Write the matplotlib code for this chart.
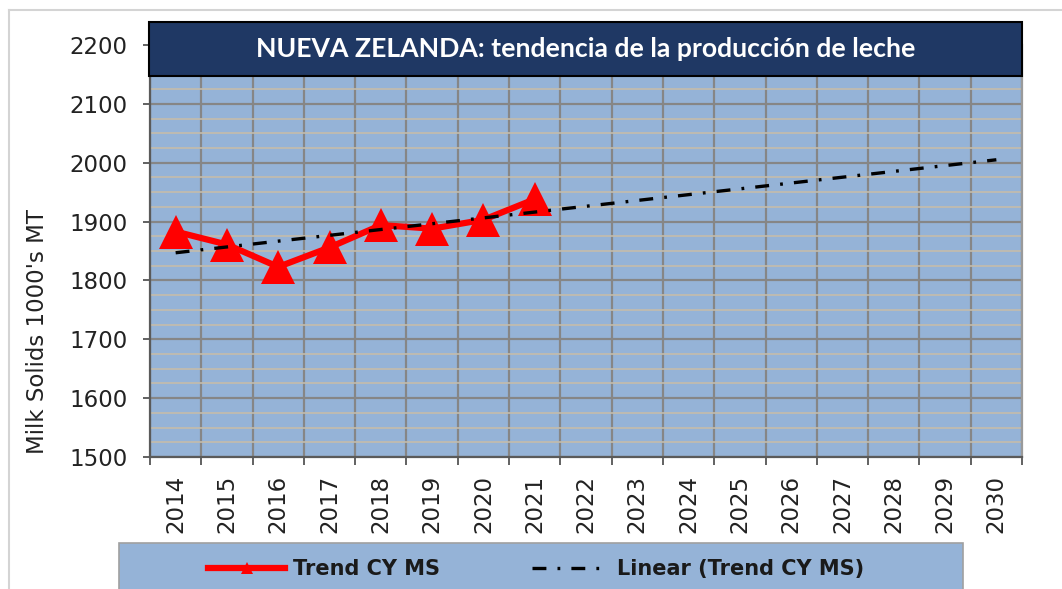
import matplotlib
matplotlib.use('Agg')
import matplotlib.pyplot as plt
from matplotlib.patches import Rectangle
from matplotlib.lines import Line2D
from matplotlib.ticker import MultipleLocator, FixedLocator

plt.rcParams['lines.scale_dashes'] = False

# ==============================
# DATA
# ==============================
years = ['2014', '2015', '2016', '2017', '2018', '2019', '2020', '2021', '2022',
         '2023', '2024', '2025', '2026', '2027', '2028', '2029', '2030']
trend_cy_ms = [1883, 1861, 1823, 1856, 1894, 1888, 1903, 1938]
# linear trendline as drawn (value at first and last category)
linear_years = ['2014', '2030']
linear_vals = [1847, 2005]

title = 'NUEVA ZELANDA: tendencia de la producción de leche'
ylabel = "Milk Solids 1000's MT"
series_label = 'Trend CY MS'
linear_label = 'Linear (Trend CY MS)'

# colours
bg_blue = '#95b3d7'
navy = '#1f3864'
grid_major = '#868686'
grid_minor = '#c4bcab'

# ==============================
# FIGURE
# ==============================
W, H = 1062, 589
fig = plt.figure(figsize=(W / 100, H / 100), dpi=100)
fig.patch.set_facecolor('white')

ax = fig.add_axes([150 / W, 1 - 457 / H, 872 / W, 412 / H])
ax.set_facecolor(bg_blue)

x_idx = list(range(len(years)))
pos = {y: i for i, y in enumerate(years)}

ax.plot([pos[y] for y in years[:len(trend_cy_ms)]], trend_cy_ms, color='#ff0000',
        linewidth=4.5, marker='^', markersize=24, markeredgewidth=0,
        label=series_label, zorder=3, solid_joinstyle='miter')
ax.plot([pos[y] for y in linear_years], linear_vals, color='black', linewidth=2.4,
        linestyle=(0, (10, 8, 2, 8)), label=linear_label, zorder=4)

ax.set_xlim(-0.5, len(years) - 0.5)
ax.set_ylim(1500, 2200)

# y axis
ax.yaxis.set_major_locator(MultipleLocator(100))
ax.yaxis.set_minor_locator(MultipleLocator(25))
ax.tick_params(axis='y', which='major', length=5, width=1.3, color='#555555',
               pad=11, labelsize=16.5, labelcolor='#222222')
ax.tick_params(axis='y', which='minor', length=0)

# x axis: labels at centres, ticks/grid at boundaries
ax.set_xticks(x_idx)
ax.set_xticklabels(years, rotation=90, fontsize=16.5, color='#222222')
ax.xaxis.set_minor_locator(FixedLocator([i + 0.5 for i in x_idx[:-1]] + [-0.5, len(years) - 0.5]))
ax.tick_params(axis='x', which='major', length=0, pad=13)
ax.tick_params(axis='x', which='minor', length=6, width=1.3, color='#555555', direction='out')

ax.grid(True, axis='y', which='major', color=grid_major, linewidth=1.6, zorder=1)
ax.grid(True, axis='y', which='minor', color=grid_minor, linewidth=1.2, zorder=1)
ax.grid(True, axis='x', which='minor', color=grid_major, linewidth=1.6, zorder=1)
ax.set_axisbelow(True)

for side in ['left', 'bottom']:
    ax.spines[side].set_color('#5a5a5a')
    ax.spines[side].set_linewidth(1.6)
ax.spines['right'].set_color('#9a9a9a')
ax.spines['right'].set_linewidth(1.6)
ax.spines['top'].set_visible(False)

fig.text(38 / W, 1 - 332 / H, ylabel, rotation=90, ha='center', va='center',
         fontsize=16.5, color='#222222')

# ==============================
# TITLE BOX
# ==============================
fig.patches.append(Rectangle((149 / W, 1 - 76 / H), 873 / W, 54 / H,
                             transform=fig.transFigure, facecolor=navy,
                             edgecolor='black', linewidth=1.5, zorder=5))
fig.text(586 / W, 1 - 49 / H, title, ha='center', va='center', color='white',
         fontsize=19.2, fontweight='bold', family='Lato', zorder=6)

# chart border lines
fig.lines.append(Line2D([9 / W, 9 / W], [0, 1 - 10 / H], transform=fig.transFigure,
                        color='#d4d4d4', linewidth=1.5))
fig.lines.append(Line2D([9 / W, 1], [1 - 10 / H, 1 - 10 / H], transform=fig.transFigure,
                        color='#d4d4d4', linewidth=1.5))

# ==============================
# LEGEND BOX
# ==============================
fig.patches.append(Rectangle((119 / W, -0.02), 844 / W, (589 - 543) / H + 0.02,
                             transform=fig.transFigure, facecolor=bg_blue,
                             edgecolor='#a0a0a0', linewidth=1.2, zorder=1))
handles, labels = ax.get_legend_handles_labels()
leg = fig.legend(handles, labels, loc='center left', bbox_to_anchor=(208 / W, 1 - 569 / H),
                 ncol=2, frameon=False, handlelength=3.7, handletextpad=0.4,
                 columnspacing=4.4, borderpad=0, borderaxespad=0,
                 prop={'weight': 'bold', 'size': 15})
leg.legend_handles[0].set_markersize(9)
for t in leg.get_texts():
    t.set_color('#1a1a1a')

fig.savefig('out.png', dpi=100)
